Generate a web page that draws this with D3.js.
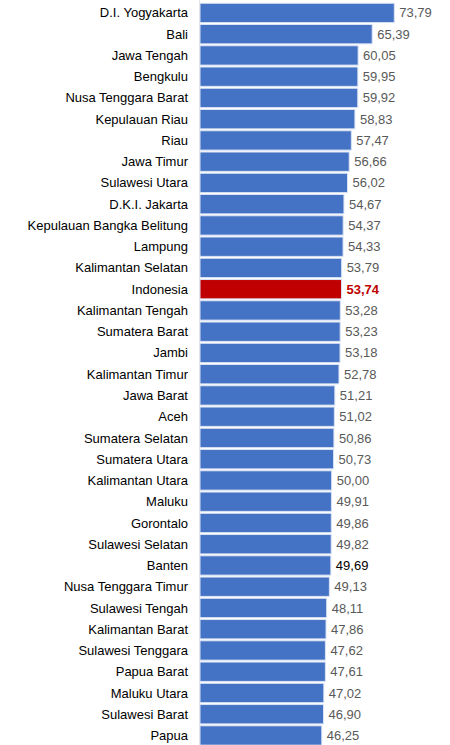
<!DOCTYPE html>
<meta charset="utf-8">
<script src="https://d3js.org/d3.v7.min.js"></script>
<style>
  body { margin: 0; background: #fff; }
</style>
<div id="chart"></div>
<script>

// provinces, top to bottom
var provinces = ["D.I. Yogyakarta", "Bali", "Jawa Tengah", "Bengkulu", "Nusa Tenggara Barat",
  "Kepulauan Riau", "Riau", "Jawa Timur", "Sulawesi Utara", "D.K.I. Jakarta",
  "Kepulauan Bangka Belitung", "Lampung", "Kalimantan Selatan", "Indonesia", "Kalimantan Tengah",
  "Sumatera Barat", "Jambi", "Kalimantan Timur", "Jawa Barat", "Aceh",
  "Sumatera Selatan", "Sumatera Utara", "Kalimantan Utara", "Maluku", "Gorontalo",
  "Sulawesi Selatan", "Banten", "Nusa Tenggara Timur", "Sulawesi Tengah", "Kalimantan Barat",
  "Sulawesi Tenggara", "Papua Barat", "Maluku Utara", "Sulawesi Barat", "Papua"];

var scores = [73.79, 65.39, 60.05, 59.95, 59.92,
  58.83, 57.47, 56.66, 56.02, 54.67,
  54.37, 54.33, 53.79, 53.74, 53.28,
  53.23, 53.18, 52.78, 51.21, 51.02,
  50.86, 50.73, 50.00, 49.91, 49.86,
  49.82, 49.69, 49.13, 48.11, 47.86,
  47.62, 47.61, 47.02, 46.90, 46.25];

var national = "Indonesia";
var highlighted = "Banten";

var data = provinces.map(function(p, i){ return {name: p, value: scores[i]}; });

var width = 450, height = 745;
var left = 200;

var svg = d3.select("#chart")
  .append("svg")
    .attr("width", width)
    .attr("height", height);

var x = d3.scaleLinear()
  .domain([0, 73.79])
  .range([0, 194.3]);

var y = d3.scaleBand()
  .domain(provinces)
  .range([2.3, 746.1])
  .paddingInner(0.09)
  .paddingOuter(0.045);

var fmt = function(v){ return d3.format(".2f")(v).replace(".", ","); };

var g = svg.append("g").attr("transform", "translate(" + left + ",0)");

// faint base line
g.append("line")
  .attr("x1", -0.5).attr("x2", -0.5)
  .attr("y1", 0).attr("y2", height)
  .attr("stroke", "#e4e4e4");

g.selectAll("rect.bar")
  .data(data)
  .enter()
  .append("rect")
    .attr("class", "bar")
    .attr("x", 0)
    .attr("y", function(d){ return y(d.name); })
    .attr("width", function(d){ return x(d.value); })
    .attr("height", y.bandwidth())
    .attr("fill", function(d){ return d.name == national ? "#c00000" : "#4472c4"; })
    .attr("stroke", "#dae3f3")
    .attr("stroke-width", 1);

// category labels
g.selectAll("text.name")
  .data(data)
  .enter()
  .append("text")
    .attr("class", "name")
    .attr("x", -12)
    .attr("y", function(d){ return y(d.name) + y.bandwidth() / 2; })
    .attr("dy", "0.35em")
    .attr("text-anchor", "end")
    .style("font-family", "'Liberation Sans', Arial, sans-serif")
    .style("font-size", "13px")
    .style("fill", "#000")
    .text(function(d){ return d.name; });

// value labels
g.selectAll("text.value")
  .data(data)
  .enter()
  .append("text")
    .attr("class", "value")
    .attr("x", function(d){ return x(d.value) + 5; })
    .attr("y", function(d){ return y(d.name) + y.bandwidth() / 2; })
    .attr("dy", "0.35em")
    .style("font-family", "'Liberation Sans', Arial, sans-serif")
    .style("font-size", "13px")
    .style("font-weight", function(d){ return d.name == national ? "bold" : "normal"; })
    .style("fill", function(d){
      if (d.name == national) return "#c00000";
      if (d.name == highlighted) return "#000";
      return "#595959";
    })
    .text(function(d){ return fmt(d.value); });

</script>
